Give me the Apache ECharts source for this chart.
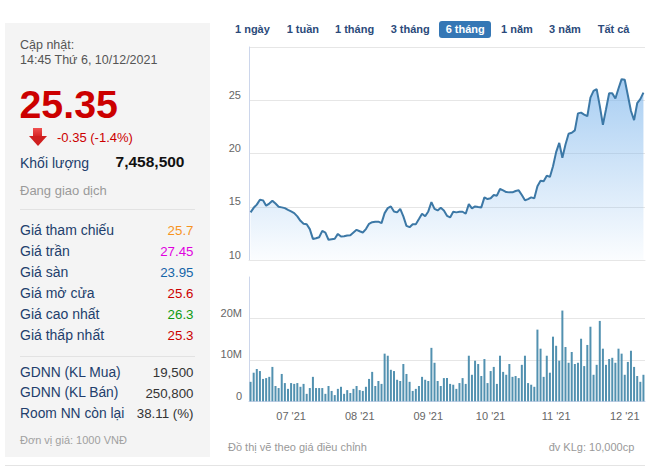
<!DOCTYPE html>
<html>
<head>
<meta charset="utf-8">
<script src="https://cdn.jsdelivr.net/npm/echarts@6/dist/echarts.min.js"></script>
<style>
  html, body { margin:0; padding:0; background:#fff; }
  body { width:656px; height:469px; position:relative; overflow:hidden; font-family:"Liberation Sans", Arial, sans-serif; }
  #chart { position:absolute; left:0; top:0; width:656px; height:469px; }
  #panel { position:absolute; left:5px; top:23px; width:205px; height:434px; background:#f4f4f4; }
  .t { position:absolute; white-space:nowrap; line-height:1; }
  .sep { position:absolute; height:1px; background:#e2e2e2; }
  .btn { position:absolute; white-space:nowrap; font-weight:bold; font-size:11px; color:#2b4a7a; line-height:1; }
  #active { position:absolute; left:439px; top:21px; width:52px; height:17px; background:#3577b5; border-radius:3px; }
</style>
</head>
<body>
<div id="panel"></div>
<div id="active"></div>
<div id="chart"></div>
<div id="texts"></div>
<script>
// ---- data ----
const jun = [14,15,16,17,18,21,22,23,24,25,28,29,30];
const jul = [1,2,5,6,7,8,9,12,13,14,15,16,19,20,21,22,23,26,27,28,29,30];
const aug = [2,3,4,5,6,9,10,11,12,13,16,17,18,19,20,23,24,25,26,27,30,31];
const sep = [1,6,7,8,9,10,13,14,15,16,17,20,21,22,23,24,27,28,29,30];
const oct = [1,4,5,6,7,8,11,12,13,14,15,18,19,20,21,22,25,26,27,28,29];
const nov = [1,2,3,4,5,8,9,10,11,12,15,16,17,18,19,22,23,24,25,26,29,30];
const dec = [1,2,3,6,7,8,9];

const price = [14.47,14.9,15.2,15.66,15.6,15.1,15.3,15.57,15.3,15.0,
  14.94,14.87,14.7,14.56,14.4,14.1,13.68,13.4,13.36,12.9,
  11.98,12.04,12.14,12.74,12.58,11.9,11.95,12.0,12.45,12.2,
  12.23,12.3,12.33,12.58,12.83,12.7,12.58,12.9,13.4,13.55,
  13.6,13.6,13.46,14.4,14.87,15.03,14.56,14.47,14.8,14.1,
  13.2,13.08,13.36,13.36,13.84,14.34,14.1,14.56,15.44,14.8,
  14.65,14.9,14.65,14.15,14.0,14.53,14.47,14.53,14.53,14.34,
  15.25,14.84,15.03,14.97,14.94,15.88,15.72,15.8,16.1,16.04,
  16.67,16.54,16.38,16.35,16.35,16.48,16.54,16.1,15.6,15.72,
  15.88,15.79,16.92,17.45,17.39,17.92,17.8,18.8,20.13,21.0,
  19.6,20.85,21.86,21.95,22.17,23.77,23.84,23.65,23.5,25.25,
  25.88,26.04,24.47,22.7,24.15,25.66,25.66,25.16,26.1,26.98,
  26.92,25.47,23.99,23.14,24.72,25.1,25.72];

const volume = [4.7,6.9,7.8,7.3,5.4,5.6,5.9,8.3,3.7,3.2,
  6.6,4.4,3.0,4.4,4.2,4.4,3.5,4.2,1.8,3.2,
  5.9,3.2,3.2,3.2,1.8,3.7,2.5,1.5,3.0,3.5,
  1.8,2.7,2.0,3.0,3.7,2.7,2.5,3.5,5.4,7.1,
  3.7,4.9,4.2,11.5,11.0,7.6,7.3,5.2,4.9,9.0,
  6.6,4.7,2.5,3.0,3.7,5.9,5.2,4.9,12.9,9.3,
  4.9,3.7,5.6,5.6,4.2,4.0,3.0,4.4,5.6,4.2,
  11.0,6.4,9.8,9.0,6.1,10.2,4.4,7.3,8.3,4.2,
  11.0,7.1,6.4,9.0,5.9,6.1,5.6,8.8,11.0,4.4,
  4.0,3.5,17.3,12.7,5.9,11.0,6.9,15.6,13.4,9.8,
  21.9,13.1,9.3,11.9,9.0,9.3,15.1,8.5,13.6,18.0,
  6.4,8.8,19.4,12.7,8.8,10.2,10.5,9.3,12.7,11.5,
  6.4,9.5,12.2,8.3,6.1,4.7,6.4];

const tickDates = ['01/07', '02/08', '01/09', '01/10', '01/11', '01/12'];
const tickLabels = ["07 '21", "08 '21", "09 '21", "10 '21", "11 '21", "12 '21"];

const pad = n => (n < 10 ? '0' : '') + n;
const categories = [];
[[jun,6],[jul,7],[aug,8],[sep,9],[oct,10],[nov,11],[dec,12]].forEach(([days, m]) => {
  days.forEach(d => categories.push(pad(d) + '/' + pad(m)));
});

// ---- left panel & html texts ----
const box = document.getElementById('texts');
function txt(s, x, baseline, fs, color, opts) {
  opts = opts || {};
  const el = document.createElement('div');
  el.className = opts.cls || 't';
  el.textContent = s;
  el.style.fontSize = fs + 'px';
  el.style.color = color;
  if (opts.bold) el.style.fontWeight = 'bold';
  el.style.top = (baseline - 0.8465 * fs) + 'px';
  if (opts.right) { el.style.right = (656 - x) + 'px'; } else { el.style.left = x + 'px'; }
  box.appendChild(el);
}
function sepLine(x1, x2, y, color) {
  const el = document.createElement('div');
  el.className = 'sep';
  el.style.left = x1 + 'px'; el.style.width = (x2 - x1) + 'px'; el.style.top = y + 'px';
  if (color) el.style.background = color;
  box.appendChild(el);
}
const navy = '#223e6c';
txt('Cập nhật:', 20, 50, 12.5, '#555');
txt('14:45 Thứ 6, 10/12/2021', 20, 65, 12.5, '#555');
txt('25.35', 19.5, 118.3, 39.3, '#cc0000', {bold:true});
txt('-0.35 (-1.4%)', 57, 141.7, 13, '#cc0000');
txt('Khối lượng', 20, 168, 14, navy);
txt('7,458,500', 184.5, 167.5, 15.5, '#111', {bold:true, right:true});
txt('Đang giao dịch', 20, 195, 13, '#9a9a9a');
sepLine(20, 195, 209);
const rowLabels = ['Giá tham chiếu','Giá trần','Giá sàn','Giá mở cửa','Giá cao nhất','Giá thấp nhất'];
const rowValues = ['25.7','27.45','23.95','25.6','26.3','25.3'];
const rowColors = ['#f7931e','#e000e0','#1565a8','#cc0000','#109a10','#cc0000'];
rowLabels.forEach((l, i) => {
  const b = 235.3 + i * 20.9;
  txt(l, 20, b, 14, navy);
  txt(rowValues[i], 193.5, b, 13.3, rowColors[i], {right:true});
});
sepLine(20, 195, 356);
const nnLabels = ['GDNN (KL Mua)','GDNN (KL Bán)','Room NN còn lại'];
const nnValues = ['19,500','250,800','38.11 (%)'];
nnLabels.forEach((l, i) => {
  const b = 377.3 + i * 20.5;
  txt(l, 20, b, 13.8, navy);
  txt(nnValues[i], 193.5, b, 13.3, '#333', {right:true});
});
txt('Đơn vị giá: 1000 VNĐ', 20, 444.3, 11, '#a0a0a0');

// arrow
(function(){
  const s = document.createElement('div');
  s.style.cssText = 'position:absolute;left:33px;top:128px;width:9px;height:9px;background:linear-gradient(#f05050,#d42020);';
  box.appendChild(s);
  const h = document.createElement('div');
  h.style.cssText = 'position:absolute;left:28.5px;top:136px;width:0;height:0;border-left:9px solid transparent;border-right:9px solid transparent;border-top:10px solid #cf1f1f;';
  box.appendChild(h);
})();

// range buttons
const btns = ['1 ngày','1 tuần','1 tháng','3 tháng','6 tháng','1 năm','3 năm','Tất cả'];
const btnX = [235, 286.7, 335, 390.7, 445.7, 501, 549, 597.7];
btns.forEach((b, i) => {
  txt(b, btnX[i], 33.3, 11, i === 4 ? '#fff' : '#2b4a7a', {bold:true, cls:'btn'});
});

// footer
txt('Đồ thị vẽ theo giá điều chỉnh', 228, 451.7, 11, '#999');
txt('đv KLg: 10,000cp', 634.3, 451.7, 11, '#999', {right:true});
sepLine(5, 645, 465, '#e4e4e4');

// ---- chart ----
const chart = echarts.init(document.getElementById('chart'), null, {renderer:'svg', width:656, height:469});
const axisBlue = '#ccd6eb';
const gridGrey = '#e6e6e6';
const lblColor = '#666';
chart.setOption({
  animation: false,
  textStyle: { fontFamily: '"Liberation Sans", Arial, sans-serif' },
  grid: [
    { left: 249, top: 47, width: 396, height: 213 },
    { left: 249, top: 277, width: 396, height: 124.3 }
  ],
  xAxis: [
    { type:'category', gridIndex:0, data: categories, boundaryGap:true,
      axisLine:{ lineStyle:{ color: gridGrey } }, axisTick:{show:false}, axisLabel:{show:false} },
    { type:'category', gridIndex:1, data: categories, boundaryGap:true,
      axisLine:{ lineStyle:{ color: axisBlue } },
      axisTick:{ alignWithLabel:true, length:4, lineStyle:{color: axisBlue},
        interval: (i, v) => tickDates.includes(v) },
      axisLabel:{ color: lblColor, fontSize: 11, margin: 9,
        interval: (i, v) => tickDates.includes(v),
        formatter: v => { const k = tickDates.indexOf(v); return k >= 0 ? tickLabels[k] : ''; } } }
  ],
  yAxis: [
    { type:'value', gridIndex:0, min:10, max:30, interval:5,
      axisLine:{ show:true, lineStyle:{ color: axisBlue } }, axisTick:{show:false},
      splitLine:{ lineStyle:{ color: gridGrey } },
      axisLabel:{ color: lblColor, fontSize:11, margin:8, showMaxLabel:false,
        verticalAlign:'bottom', lineHeight: 11 } },
    { type:'value', gridIndex:1, min:0, max:30, interval:10,
      axisLine:{ show:true, lineStyle:{ color: axisBlue } }, axisTick:{show:false},
      splitLine:{ lineStyle:{ color: [gridGrey, gridGrey, gridGrey, 'rgba(0,0,0,0)'] } },
      axisLabel:{ color: lblColor, fontSize:11, margin:7, showMaxLabel:false,
        verticalAlign:'bottom', lineHeight: 11,
        formatter: v => v === 0 ? '0' : v + 'M' } }
  ],
  series: [
    { type:'line', xAxisIndex:0, yAxisIndex:0, data: price, symbol:'none', smooth:false,
      lineStyle:{ color:'#3c78a6', width:2 },
      areaStyle:{ color: new echarts.graphic.LinearGradient(0,0,0,1,[
        {offset:0, color:'rgba(124,181,236,0.95)'},
        {offset:1, color:'rgba(124,181,236,0.04)'}]) } },
    { type:'bar', xAxisIndex:1, yAxisIndex:1, data: volume, barWidth: 2,
      itemStyle:{ color:'#5291b0' } }
  ]
});
</script>
</body>
</html>
